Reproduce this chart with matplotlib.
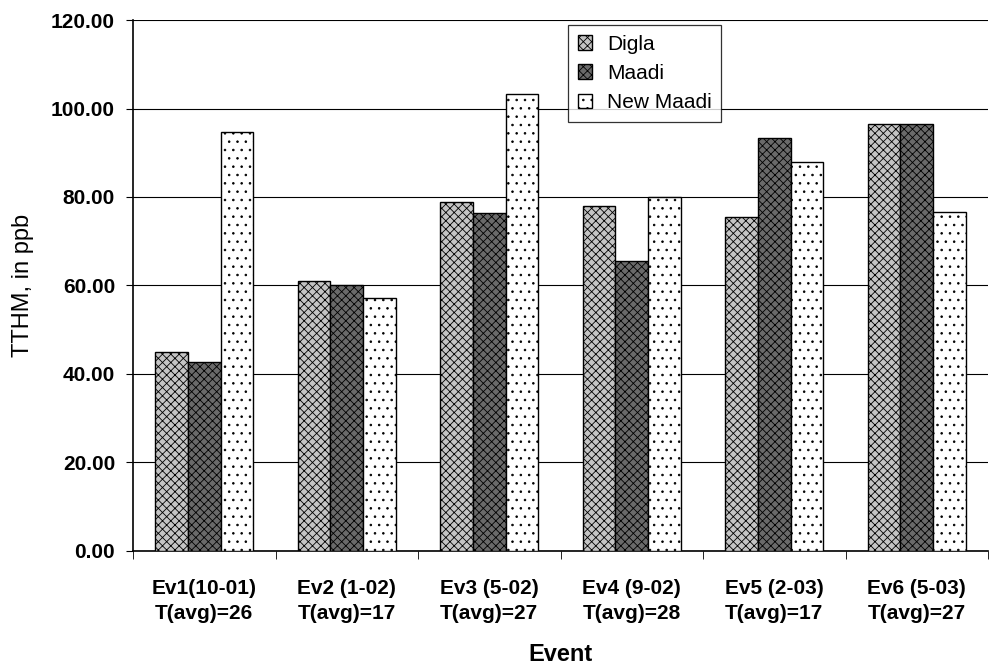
import numpy as np
import matplotlib.pyplot as plt

plt.rcParams['font.family'] = ['Liberation Sans', 'DejaVu Sans']
plt.rcParams['hatch.linewidth'] = 0.6

events = ['Ev1(10-01)\nT(avg)=26', 'Ev2 (1-02)\nT(avg)=17', 'Ev3 (5-02)\nT(avg)=27',
          'Ev4 (9-02)\nT(avg)=28', 'Ev5 (2-03)\nT(avg)=17', 'Ev6 (5-03)\nT(avg)=27']
digla = [45.0, 61.0, 78.8, 78.0, 75.5, 96.6]
maadi = [42.7, 60.0, 76.3, 65.5, 93.4, 96.4]
new_maadi = [94.7, 57.2, 103.3, 80.0, 87.8, 76.7]

fig = plt.figure(figsize=(9.93, 6.70), dpi=100)
ax = fig.add_axes([0.134, 0.178, 0.861, 0.792])

x = np.arange(len(events))
w = 0.23
ax.bar(x - w, digla, w, facecolor='#c4c4c4', edgecolor='black', hatch='xxxx',
       linewidth=1.0, label='Digla', zorder=3)
ax.bar(x, maadi, w, facecolor='#6a6a6a', edgecolor='black', hatch='xxxx',
       linewidth=1.0, label='Maadi', zorder=3)
ax.bar(x + w, new_maadi, w, facecolor='white', edgecolor='black', hatch='..',
       linewidth=1.0, label='New Maadi', zorder=3)

ax.set_xlim(-0.5, len(events) - 0.5)
ax.set_ylim(0, 120)
ax.set_yticks(np.arange(0, 121, 20))
ax.set_yticklabels([f'{v:.2f}' for v in np.arange(0, 121, 20)],
                   fontsize=15, fontweight='bold')
ax.set_xticks(x)
ax.set_xticklabels(events, fontsize=15, fontweight='bold', linespacing=1.45)
ax.tick_params(axis='x', length=0, pad=20)
ax.set_xticks(np.arange(-0.5, len(events)), minor=True)
ax.tick_params(axis='x', which='minor', length=6, direction='out')
ax.tick_params(axis='y', length=5, direction='out', pad=8)

ax.yaxis.grid(True, color='black', linewidth=0.8)
ax.set_axisbelow(True)
for s in ['top', 'right']:
    ax.spines[s].set_visible(False)
ax.spines['left'].set_linewidth(1.2)
ax.spines['bottom'].set_linewidth(1.2)

ax.set_ylabel('TTHM, in ppb', fontsize=17, labelpad=12)
ax.set_xlabel('Event', fontsize=17, fontweight='bold', labelpad=14)

leg = ax.legend(loc='upper left', bbox_to_anchor=(0.497, 1.01), fontsize=15,
                frameon=True, fancybox=False, edgecolor='black',
                handlelength=0.7, handleheight=0.7, borderpad=0.45,
                labelspacing=0.5, handletextpad=0.7)
leg.get_frame().set_linewidth(0.9)

fig.savefig('out.png', dpi=100)
